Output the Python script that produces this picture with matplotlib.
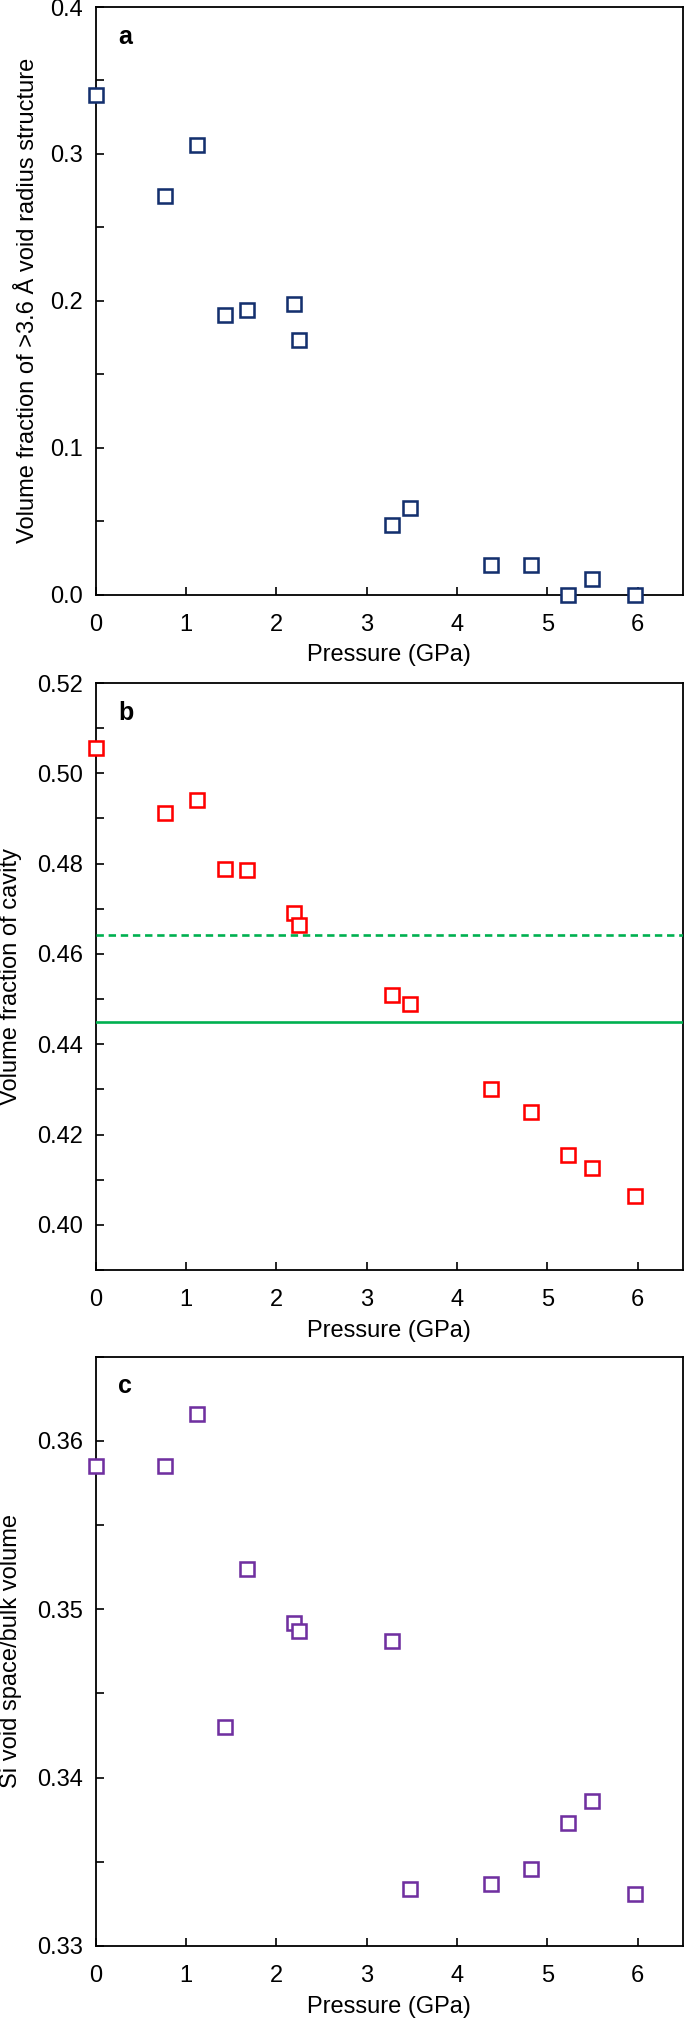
import matplotlib
matplotlib.use("Agg")
import matplotlib.pyplot as plt
from matplotlib.ticker import MultipleLocator

plt.rcParams['font.family'] = ['Liberation Sans', 'DejaVu Sans']
plt.rcParams['font.size'] = 17

# pressure values (GPa), shared by all three panels
pressure = [0.0, 0.77, 1.12, 1.43, 1.68, 2.19, 2.25, 3.28, 3.48, 4.38, 4.82, 5.23, 5.49, 5.97]

# a: volume fraction of >3.6 A void radius structure
frac_large_void = [0.340, 0.271, 0.306, 0.190, 0.194, 0.198, 0.173,
                   0.047, 0.059, 0.020, 0.020, 0.0, 0.0105, 0.0]

# b: volume fraction of cavity
frac_cavity = [0.5057, 0.4912, 0.4941, 0.4788, 0.4785, 0.4691, 0.4663,
               0.4508, 0.4488, 0.4301, 0.4249, 0.4154, 0.4126, 0.4063]
ref_dashed = 0.4641
ref_solid = 0.4450

# c: Si void space / bulk volume
si_void = [0.3585, 0.3585, 0.3616, 0.3430, 0.3524, 0.3492, 0.3487,
           0.3481, 0.3334, 0.3337, 0.3346, 0.3373, 0.3386, 0.3331]

xticks = [0, 1, 2, 3, 4, 5, 6]

fig = plt.figure(figsize=(6.85, 20.2), dpi=100)

W, H = 685.0, 2020.0
left = 95.7 / W
width = (683.0 - 95.7) / W
boxes = [(7.0, 594.5), (683.0, 1270.0), (1356.5, 1946.0)]
axes = []
for top, bot in boxes:
    axes.append(fig.add_axes([left, (H - bot) / H, width, (bot - top) / H]))

panels = [
    (axes[0], frac_large_void, '#14306e', 'a', (0, 0.4), 0.1, 0.05, '%.1f',
     'Volume fraction of >3.6 Å void radius structure', -0.096),
    (axes[1], frac_cavity, '#ff0000', 'b', (0.39, 0.52), 0.02, 0.01, '%.2f',
     'Volume fraction of cavity', -0.125),
    (axes[2], si_void, '#7030a0', 'c', (0.33, 0.365), 0.01, 0.005, '%.2f',
     'Si void space/bulk volume', -0.125),
]

for ax, vals, col, lab, ylim, major, minor, fmt, ylabel, lx in panels:
    ax.plot(pressure, vals, linestyle='none', marker='s', markersize=10.4,
            markerfacecolor='white', markeredgecolor=col, markeredgewidth=1.85,
            clip_on=False, zorder=5)
    ax.set_xlim(0, 6.5)
    ax.set_ylim(*ylim)
    ax.set_xticks(xticks)
    ax.yaxis.set_major_locator(MultipleLocator(major))
    ax.yaxis.set_minor_locator(MultipleLocator(minor))
    ax.yaxis.set_major_formatter(plt.FormatStrFormatter(fmt))
    ax.tick_params(axis='both', which='both', direction='in', length=5.8,
                   width=1.2, labelsize=17, top=False, right=False)
    ax.tick_params(axis='x', pad=14)
    ax.tick_params(axis='y', pad=9.4)
    for sp in ax.spines.values():
        sp.set_linewidth(1.3)
    ax.set_xlabel('Pressure (GPa)', fontsize=17, labelpad=6)
    ax.set_ylabel(ylabel, fontsize=17)
    ax.yaxis.set_label_coords(lx, 0.5)
    ax.annotate(lab, xy=(0, 1), xycoords='axes fraction', xytext=(22.5, -36.5),
                textcoords='offset pixels', ha='left', va='baseline',
                fontsize=18, fontweight='bold')

axes[1].axhline(ref_dashed, color='#00b050', linewidth=1.9, linestyle=(0, (2.8, 1.8)), zorder=3)
axes[1].axhline(ref_solid, color='#00b050', linewidth=1.9, zorder=3)

fig.savefig('out.png', dpi=100)
